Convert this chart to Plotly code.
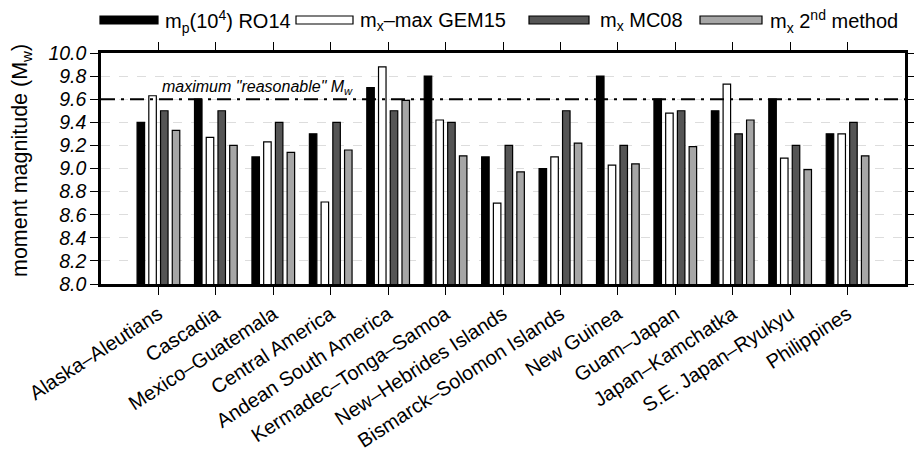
import plotly.graph_objects as go

regions = ["Alaska–Aleutians", "Cascadia", "Mexico–Guatemala", "Central America",
           "Andean South America", "Kermadec–Tonga–Samoa", "New–Hebrides Islands",
           "Bismarck–Solomon Islands", "New Guinea", "Guam–Japan", "Japan–Kamchatka",
           "S.E. Japan–Ryukyu", "Philippines"]
mp_ro14 = [9.4, 9.6, 9.1, 9.3, 9.7, 9.8, 9.1, 9.0, 9.8, 9.6, 9.5, 9.6, 9.3]
mx_gem15 = [9.63, 9.27, 9.23, 8.71, 9.88, 9.42, 8.70, 9.10, 9.03, 9.48, 9.73, 9.09, 9.30]
mx_mc08 = [9.5, 9.5, 9.4, 9.4, 9.5, 9.4, 9.2, 9.5, 9.2, 9.5, 9.3, 9.2, 9.4]
mx_2nd = [9.33, 9.20, 9.14, 9.16, 9.59, 9.11, 8.97, 9.22, 9.04, 9.19, 9.42, 8.99, 9.11]
series_names = ["m<sub>p</sub>(10<sup>4</sup>) RO14", "m<sub>x</sub>–max GEM15",
                "m<sub>x</sub> MC08", "m<sub>x</sub> 2<sup>nd</sup> method"]
series_colors = ["#000000", "#ffffff", "#555555", "#a6a6a6"]
max_reasonable = 9.6

xpos = list(range(1, len(regions) + 1))
FONT = "Liberation Sans, Arial, Helvetica, sans-serif"

fig = go.Figure()
for name, vals, col in zip(series_names, [mp_ro14, mx_gem15, mx_mc08, mx_2nd], series_colors):
    fig.add_trace(go.Bar(x=xpos, y=vals, name=name, marker=dict(color=col, line=dict(color="black", width=1.2)),
                         showlegend=False))

# reference line
fig.add_shape(type="line", xref="paper", x0=0, x1=1, yref="y", y0=max_reasonable, y1=max_reasonable,
              line=dict(color="black", width=2, dash="14px,6px,3px,6px"), layer="above")
fig.add_annotation(xref="paper", x=0.074, yref="y", y=9.705, xanchor="left", yanchor="middle",
                   text="maximum \"reasonable\" M<sub>w</sub>", showarrow=False,
                   font=dict(family=FONT, size=16, color="black", style="italic"))

# manual legend (wide swatches)
L, R, T, B = 101, 905, 53, 284
W, H = R - L, B - T
def px(x):
    return (x - L) / W
def py(y):
    return (B - y) / H
leg_y = 20
swatches = [(100, 158, 163), (296, 353, 358), (529, 589, 598), (700, 762, 768)]
for (x0, x1, tx), name, col in zip(swatches, series_names, series_colors):
    fig.add_shape(type="rect", xref="paper", yref="paper", x0=px(x0), x1=px(x1),
                  y0=py(leg_y + 4), y1=py(leg_y - 4), fillcolor=col,
                  line=dict(color="black", width=1.2))
    fig.add_annotation(xref="paper", yref="paper", x=px(tx), y=py(leg_y + 1), xanchor="left", yanchor="middle",
                       text=name, showarrow=False, font=dict(family=FONT, size=20, color="black"))

# y-axis title as annotation (slightly above plot centre, as in the reference)
fig.add_annotation(xref="paper", yref="paper", x=px(21), y=py(161), xanchor="center", yanchor="middle",
                   text="moment magnitude (M<sub>w</sub>)", textangle=-90, showarrow=False,
                   font=dict(family=FONT, size=21.5, color="black"))

fig.update_layout(
    width=914, height=454,
    margin=dict(l=L, r=914 - R, t=T, b=454 - B),
    paper_bgcolor="white", plot_bgcolor="white",
    barmode="group", bargap=0.183, bargroupgap=0.36,
    font=dict(family=FONT, color="black"),
)
fig.update_xaxes(range=[0, len(regions) + 1], tickmode="array", tickvals=xpos, ticktext=regions,
                 tickangle=-33, tickfont=dict(family=FONT, size=20),
                 showgrid=False, showline=True, linewidth=2.5, linecolor="black", mirror="ticks",
                 ticks="outside", ticklen=8, tickwidth=1.3, tickcolor="black", zeroline=False,
                 automargin=False)
fig.update_yaxes(range=[8, 10], dtick=0.2, tick0=8, tickformat=".1f",
                 tickfont=dict(family=FONT, size=19.5, style="italic"),
                 showgrid=True, gridcolor="#dddddd", griddash="dash", gridwidth=1,
                 showline=True, linewidth=2.5, linecolor="black", mirror="ticks",
                 ticks="outside", ticklen=8, tickwidth=1.3, tickcolor="black", zeroline=False,
                 automargin=False)

fig.write_html("out.html", config={"displayModeBar": False},
               post_script="document.body.style.margin='0';document.body.style.overflow='hidden';")
